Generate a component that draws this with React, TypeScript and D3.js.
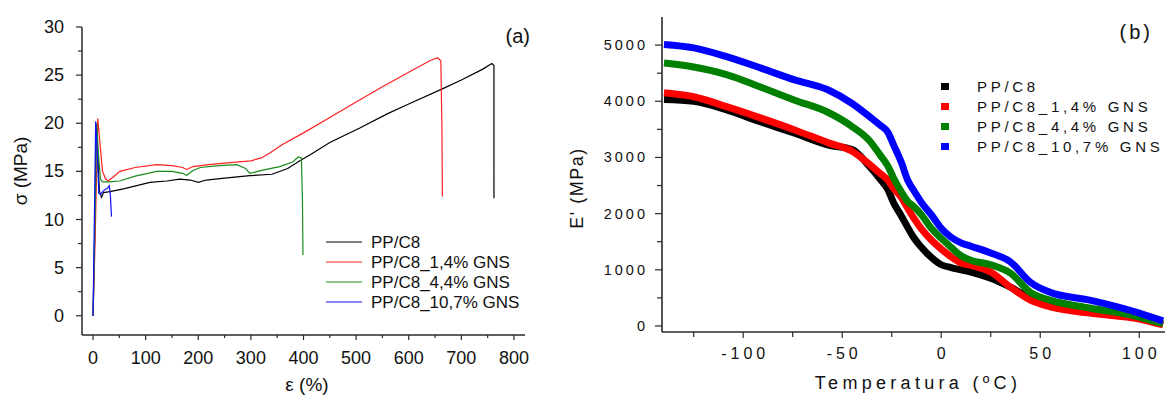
import * as d3 from "d3";

// ---- panel (a): stress-strain curves ----
const strainPP = [0, 3, 6, 9, 12, 16, 20, 32, 60, 108, 140, 165, 185, 200, 215, 250, 298, 340, 370, 393, 412, 450, 507, 560, 600, 665, 700, 740, 758, 762, 762];
const stressPP = [0, 8, 19.8, 16.5, 13, 12.3, 12.8, 12.9, 13.2, 13.85, 14.0, 14.2, 14.1, 13.85, 14.1, 14.3, 14.55, 14.7, 15.3, 16.1, 16.7, 18.0, 19.5, 21.0, 22.0, 23.6, 24.5, 25.6, 26.2, 26.0, 12.2];

const strain14 = [0, 4, 9, 13, 18, 24, 29, 40, 51, 80, 121, 150, 170, 178, 190, 220, 260, 300, 320, 336, 360, 400, 450, 500, 550, 600, 640, 655, 661, 663, 664];
const stress14 = [0, 8, 20.5, 18, 15, 14.2, 14.0, 14.5, 15.0, 15.4, 15.7, 15.6, 15.4, 15.2, 15.5, 15.7, 15.9, 16.1, 16.4, 16.9, 17.8, 19.0, 20.6, 22.2, 23.8, 25.3, 26.5, 26.8, 26.5, 20, 12.4];

const strain44 = [0, 3, 7, 10, 14, 18, 30, 50, 80, 121, 150, 170, 178, 190, 204, 240, 273, 290, 298, 320, 355, 380, 390, 396, 398, 399];
const stress44 = [0, 8, 20, 17, 14.2, 13.9, 13.9, 14.0, 14.5, 15.0, 15.0, 14.8, 14.6, 15.1, 15.4, 15.6, 15.7, 15.3, 14.8, 15.1, 15.5, 16.0, 16.5, 16.4, 12, 6.3];

const strain107 = [0, 2, 5, 8, 11, 14, 20, 28, 31, 33, 35];
const stress107 = [0, 8, 20.2, 17, 12.7, 12.6, 13.0, 13.3, 13.5, 12.5, 10.3];

// ---- panel (b): storage modulus vs temperature ----
const temps = [-140, -125, -108, -91, -74, -57, -45, -36, -31, -27, -24, -20, -17, -14, -10, -5, 0, 5, 10, 15, 25, 35, 45, 55, 75, 100, 112];
const modPP = [4030, 4000, 3840, 3630, 3430, 3220, 3140, 2830, 2620, 2430, 2190, 1950, 1760, 1580, 1400, 1220, 1090, 1040, 1000, 960, 850, 690, 500, 380, 260, 140, 30];
const mod14 = [4150, 4080, 3900, 3700, 3490, 3260, 3110, 2870, 2720, 2600, 2450, 2280, 2100, 1930, 1730, 1530, 1370, 1230, 1120, 1080, 960, 690, 460, 340, 230, 125, 20];
const mod44 = [4680, 4610, 4470, 4250, 4020, 3800, 3550, 3290, 3050, 2850, 2630, 2380, 2220, 2130, 1980, 1740, 1560, 1400, 1250, 1170, 1090, 940, 600, 460, 320, 160, 40];
const mod107 = [5010, 4950, 4790, 4590, 4380, 4200, 3960, 3720, 3580, 3450, 3220, 2900, 2600, 2420, 2200, 1980, 1740, 1580, 1480, 1420, 1300, 1140, 780, 600, 460, 230, 90];

const seriesNames = ["PP/C8", "PP/C8_1,4% GNS", "PP/C8_4,4% GNS", "PP/C8_10,7% GNS"];
const lineColors = ["#000000", "#ff2020", "#1a8a1a", "#1010ff"];
const markColors = ["#000000", "#ff0000", "#008000", "#0000ff"];

const aYTicks = [0, 5, 10, 15, 20, 25, 30];
const aXTicks = [0, 100, 200, 300, 400, 500, 600, 700, 800];
const bYTicks = [0, 1000, 2000, 3000, 4000, 5000];
const bXTicks = [-100, -50, 0, 50, 100];

const font = "'Liberation Sans', Arial, sans-serif";
const axisColor = "#2a2a2a";

export default function App() {
  const xa = d3.scaleLinear().domain([-21, 821]).range([82, 525]);
  const ya = d3.scaleLinear().domain([-2, 30]).range([335, 27]);
  const xb = d3.scaleLinear().domain([-141, 113]).range([662, 1165]);
  const yb = d3.scaleLinear().domain([-107, 5500]).range([332, 17]);

  const tensile = [
    [strainPP, stressPP],
    [strain14, stress14],
    [strain44, stress44],
    [strain107, stress107],
  ];
  const dma = [modPP, mod14, mod44, mod107];

  const lineA = d3
    .line<[number, number]>()
    .x((d) => xa(d[0]))
    .y((d) => ya(d[1]));
  const lineB = d3
    .line<[number, number]>()
    .x((d) => xb(d[0]))
    .y((d) => yb(d[1]))
    .curve(d3.curveMonotoneX);

  const aMinorY = d3.range(2.5, 30, 5);
  const aMinorX = d3.range(50, 800, 100);
  const bMinorY = d3.range(500, 5500, 1000);
  const bMinorX = [-125, -75, -25, 25, 75];

  return (
    <svg
      width={1165}
      height={396}
      style={{ position: "absolute", left: 0, top: 0, background: "#fff" }}
      fontFamily={font}
    >
      <rect width={1165} height={396} fill="#fff" />

      {/* ---------- panel (a) ---------- */}
      {tensile.map(([xs, ys], i) => (
        <path
          key={"a" + i}
          d={lineA(xs.map((x, j) => [x, ys[j]] as [number, number])) || ""}
          fill="none"
          stroke={lineColors[i]}
          strokeWidth={1.2}
        />
      ))}

      <line x1={82} x2={82} y1={ya(30)} y2={335} stroke={axisColor} strokeWidth={1.5} />
      <line x1={82} x2={525} y1={335} y2={335} stroke={axisColor} strokeWidth={1.5} />
      {aYTicks.map((t) => (
        <g key={"ay" + t}>
          <line x1={76} x2={82} y1={ya(t)} y2={ya(t)} stroke={axisColor} strokeWidth={1.2} />
          <text x={64} y={ya(t) + 6} textAnchor="end" fontSize={18} fill="#111">
            {t}
          </text>
        </g>
      ))}
      {aMinorY.map((t) => (
        <line key={"aym" + t} x1={78} x2={82} y1={ya(t)} y2={ya(t)} stroke={axisColor} strokeWidth={1.2} />
      ))}
      {aXTicks.map((t) => (
        <g key={"ax" + t}>
          <line x1={xa(t)} x2={xa(t)} y1={335} y2={340} stroke={axisColor} strokeWidth={1.2} />
          <text x={xa(t)} y={364} textAnchor="middle" fontSize={18} fill="#111">
            {t}
          </text>
        </g>
      ))}
      {aMinorX.map((t) => (
        <line key={"axm" + t} x1={xa(t)} x2={xa(t)} y1={335} y2={338} stroke={axisColor} strokeWidth={1.2} />
      ))}
      <text x={307} y={391} textAnchor="middle" fontSize={19} fill="#111">
        ε (%)
      </text>
      <text transform="translate(27,171) rotate(-90)" textAnchor="middle" fontSize={19} fill="#111">
        σ (MPa)
      </text>
      <text x={530} y={43} textAnchor="end" fontSize={20} fill="#111">
        (a)
      </text>

      {seriesNames.map((name, i) => (
        <g key={"la" + i}>
          <line x1={326} x2={362} y1={242 + i * 20} y2={242 + i * 20} stroke={lineColors[i]} strokeWidth={1.2} />
          <text x={371} y={248 + i * 20} fontSize={17} fill="#111">
            {name}
          </text>
        </g>
      ))}

      {/* ---------- panel (b) ---------- */}
      {dma.map((vals, i) => (
        <path
          key={"b" + i}
          d={lineB(temps.map((t, j) => [t, vals[j]] as [number, number])) || ""}
          fill="none"
          stroke={markColors[i]}
          strokeWidth={7}
          strokeLinejoin="miter"
        />
      ))}

      <line x1={662} x2={662} y1={17} y2={332} stroke={axisColor} strokeWidth={1.6} />
      <line x1={662} x2={1165} y1={332} y2={332} stroke={axisColor} strokeWidth={1.6} />
      {bYTicks.map((t) => (
        <g key={"by" + t}>
          <line x1={655} x2={662} y1={yb(t)} y2={yb(t)} stroke={axisColor} strokeWidth={1.2} />
          <text
            x={648}
            y={yb(t) + 5}
            textAnchor="end"
            fontSize={14.5}
            fill="#111"
            style={{ letterSpacing: "3px" }}
          >
            {t}
          </text>
        </g>
      ))}
      {bMinorY.map((t) => (
        <line key={"bym" + t} x1={657} x2={662} y1={yb(t)} y2={yb(t)} stroke={axisColor} strokeWidth={1.2} />
      ))}
      {bXTicks.map((t) => (
        <g key={"bx" + t}>
          <line x1={xb(t)} x2={xb(t)} y1={332} y2={338} stroke={axisColor} strokeWidth={1.2} />
          <text
            x={xb(t) + 2}
            y={359}
            textAnchor="middle"
            fontSize={16}
            fill="#111"
            style={{ letterSpacing: "4px" }}
          >
            {t}
          </text>
        </g>
      ))}
      {bMinorX.map((t) => (
        <line key={"bxm" + t} x1={xb(t)} x2={xb(t)} y1={332} y2={337} stroke={axisColor} strokeWidth={1.2} />
      ))}
      <text
        x={918}
        y={389}
        textAnchor="middle"
        fontSize={18}
        fill="#111"
        style={{ letterSpacing: "4.3px" }}
      >
        Temperatura (ºC)
      </text>
      <text
        transform="translate(583,188) rotate(-90)"
        textAnchor="middle"
        fontSize={18}
        fill="#111"
        style={{ letterSpacing: "1.5px" }}
      >
        E' (MPa)
      </text>
      <text x={1153} y={39} textAnchor="end" fontSize={20} fill="#111" style={{ letterSpacing: "3px" }}>
        (b)
      </text>

      {seriesNames.map((name, i) => (
        <g key={"lb" + i}>
          <rect x={941} y={83 + i * 20} width={8} height={7} fill={markColors[i]} />
          <text x={977} y={92 + i * 20} fontSize={15} fill="#111" style={{ letterSpacing: "3.7px" }}>
            {name}
          </text>
        </g>
      ))}
    </svg>
  );
}
